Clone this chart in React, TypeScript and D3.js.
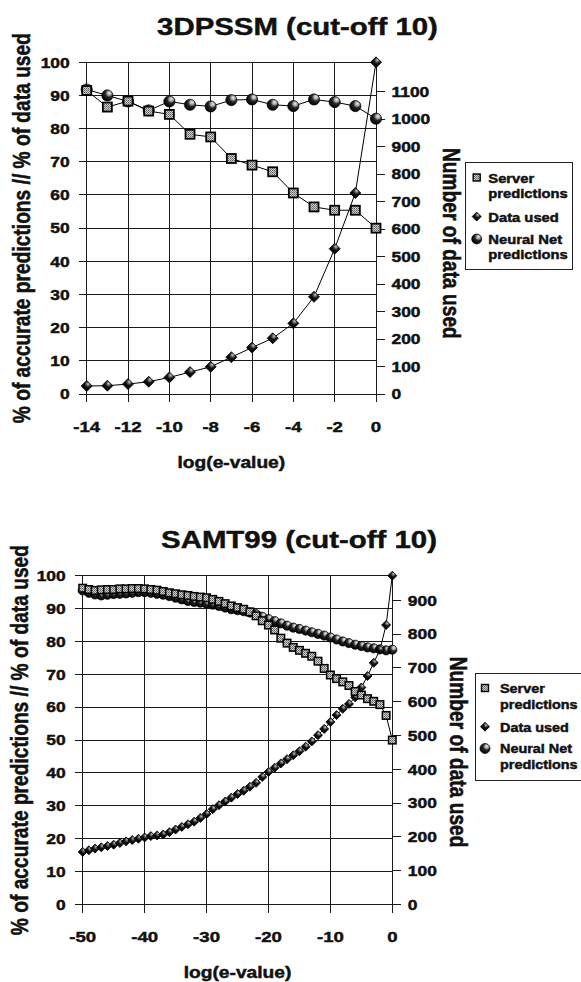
import React from 'react';
import * as d3 from 'd3';

// ---------- 3DPSSM panel data ----------
const xTop = [-14, -13, -12, -11, -10, -9, -8, -7, -6, -5, -4, -3, -2, -1, 0];
const serverTop = [91.5, 86.5, 88.3, 85.3, 84.3, 78.3, 77.5, 71, 69, 67, 60.6, 56.4, 55.4, 55.4, 50];
const dataUsedTop = [2.4, 2.5, 3, 3.7, 5, 6.6, 8.2, 11.1, 14, 16.8, 21.3, 29.3, 43.8, 60.6, 100];
const neuralTop = [91.8, 90, 88.2, 85.5, 88.2, 87.2, 86.7, 88.6, 88.8, 87.2, 86.8, 88.8, 88, 86.8, 83];
const xTicksTop = [-14, -12, -10, -8, -6, -4, -2, 0];
const rightTicksTop = [0, 100, 200, 300, 400, 500, 600, 700, 800, 900, 1000, 1100];
const totalTop = 1207;

// ---------- SAMT99 panel data ----------
const xBottom = [
  -50, -49, -48, -47, -46, -45, -44, -43, -42, -41, -40, -39, -38, -37, -36, -35, -34,
  -33, -32, -31, -30, -29, -28, -27, -26, -25, -24, -23, -22, -21, -20, -19, -18, -17,
  -16, -15, -14, -13, -12, -11, -10, -9, -8, -7, -6, -5, -4, -3, -2, -1, 0,
];
const serverBottom = [
  96.2, 95.8, 95.5, 95.7, 95.8, 95.8, 96, 96, 96.1, 96.1, 96, 95.8, 95.6, 95.2, 94.8, 94.5, 94.2,
  94, 93.7, 93.5, 93.3, 92.8, 92.2, 91.5, 90.8, 90.3, 89.8, 89, 87.8, 86.3, 85, 83.5, 81, 79.5,
  78.2, 77.3, 76.4, 75.5, 74, 71.8, 69.8, 68.7, 67.7, 66.6, 64.8, 63.7, 62.6, 61.8, 60.8, 57.5, 50,
];
const dataUsedBottom = [
  16, 16.5, 17, 17.4, 17.8, 18.2, 18.7, 19.2, 19.6, 20, 20.4, 20.8, 21, 21.3, 22, 22.8, 23.6,
  24.4, 25.2, 26.3, 27.5, 29, 30.2, 31.3, 32.5, 33.6, 34.6, 35.8, 37, 38.8, 40.3, 41.6, 42.9, 44.2,
  45.4, 46.6, 48, 49.6, 51.5, 53.4, 55.5, 57.6, 59.5, 61, 63, 66, 69.5, 73.5, 77.5, 85, 100,
];
const neuralBottom = [
  95.5, 94.8, 94.3, 94, 94.2, 94.4, 94.5, 94.6, 94.8, 95, 95, 94.8, 94.5, 94.2, 93.8, 93.3, 92.8,
  92.3, 92, 91.8, 91.5, 91.2, 90.8, 90.3, 89.8, 89.5, 89.2, 88.8, 88.3, 87.5, 86.8, 86.2, 85.5, 84.8,
  84.2, 83.8, 83.3, 82.8, 82.3, 81.8, 81.2, 80.6, 80, 79.5, 79, 78.6, 78.2, 77.9, 77.6, 77.3, 77.5,
];
const xTicksBottom = [-50, -40, -30, -20, -10, 0];
const rightTicksBottom = [0, 100, 200, 300, 400, 500, 600, 700, 800, 900];
const totalBottom = 973;

const leftTicks = [0, 10, 20, 30, 40, 50, 60, 70, 80, 90, 100];
const legendLabels = [['Server', 'predictions'], ['Data used'], ['Neural Net', 'predictions']];

const FONT = "'Liberation Sans', Arial, Helvetica, sans-serif";
const SX = 1.2; // horizontal stretch of the lettering
const INK = '#111';

type Panel = {
  title: string;
  titleX: number;
  titleY: number;
  x: number[];
  server: number[];
  dataUsed: number[];
  neural: number[];
  xTicks: number[];
  rightTicks: number[];
  total: number;
  plot: { l: number; r: number; t: number; b: number };
  leftLabelX: number;
  rightLabelX: number;
  rightLabelY: number;
  xTickY: number;
  xTitleY: number;
  legend: { x: number; y: number; w: number; h: number; mx: number; tx: number; rows: number[]; size: number };
  sq: number;
  sqStroke: number;
  cr: number;
  dm: number;
};

const panels: Panel[] = [
  {
    title: '3DPSSM (cut-off 10)',
    titleX: 297.5,
    titleY: 35,
    x: xTop,
    server: serverTop,
    dataUsed: dataUsedTop,
    neural: neuralTop,
    xTicks: xTicksTop,
    rightTicks: rightTicksTop,
    total: totalTop,
    plot: { l: 86.7, r: 376, t: 62.3, b: 394 },
    leftLabelX: 29.5,
    rightLabelX: 443,
    rightLabelY: 148,
    xTickY: 431.7,
    xTitleY: 468,
    legend: { x: 465, y: 162, w: 107, h: 107, mx: 476.7, tx: 488.3, rows: [182.5, 198, 221.6, 243.5, 258.5], size: 12.3 },
    sq: 9,
    sqStroke: 1.8,
    cr: 5.6,
    dm: 11,
  },
  {
    title: 'SAMT99 (cut-off 10)',
    titleX: 299,
    titleY: 548,
    x: xBottom,
    server: serverBottom,
    dataUsed: dataUsedBottom,
    neural: neuralBottom,
    xTicks: xTicksBottom,
    rightTicks: rightTicksBottom,
    total: totalBottom,
    plot: { l: 82.7, r: 392.3, t: 575.7, b: 904.5 },
    leftLabelX: 27.5,
    rightLabelX: 450,
    rightLabelY: 656.7,
    xTickY: 942,
    xTitleY: 978,
    legend: { x: 475.5, y: 673, w: 120, h: 107, mx: 485, tx: 500, rows: [693, 708.5, 731.7, 753, 768.5], size: 12 },
    sq: 7.5,
    sqStroke: 1.5,
    cr: 4.6,
    dm: 9,
  },
];

const HText = ({ x, y, size, anchor = 'start', children }: any) => (
  <text
    transform={`translate(${x},${y}) scale(${SX},1)`}
    textAnchor={anchor}
    fontSize={size}
    fontWeight="bold"
    fontFamily={FONT}
    fill={INK}
    stroke={INK}
    strokeWidth={0.45}
  >
    {children}
  </text>
);

const Square = ({ x, y, s, w = 1.6 }: any) => (
  <rect x={x - s / 2} y={y - s / 2} width={s} height={s} fill="url(#hatch)" stroke="#000" strokeWidth={w} />
);
const Diamond = ({ x, y, s }: any) => (
  <path
    d={`M${x},${y - s / 2}L${x + s / 2},${y}L${x},${y + s / 2}L${x - s / 2},${y}Z`}
    fill="url(#dia)"
    stroke="#000"
    strokeWidth={0.8}
  />
);
const Ball = ({ x, y, r }: any) => <circle cx={x} cy={y} r={r} fill="url(#sphere)" stroke="#000" strokeWidth={0.7} />;

function ChartPanel({ p }: { p: Panel }) {
  const { l, r, t, b } = p.plot;
  const xs = d3.scaleLinear().domain([p.x[0], p.x[p.x.length - 1]]).range([l, r]);
  const ys = d3.scaleLinear().domain([0, 100]).range([b, t]);
  const yr = d3.scaleLinear().domain([0, p.total]).range([b, t]);
  const line = d3
    .line<[number, number]>()
    .x((d) => xs(d[0]))
    .y((d) => ys(d[1]));
  const pts = (vals: number[]) => p.x.map((xv, i) => [xv, vals[i]] as [number, number]);
  const cy = (t + b) / 2;
  const lg = p.legend;

  return (
    <g>
      <HText x={p.titleX} y={p.titleY} size={24.5} anchor="middle">
        {p.title}
      </HText>

      {/* grid */}
      <g stroke="#1a1a1a" strokeWidth={1} shapeRendering="crispEdges">
        {leftTicks.map((v) => (
          <line key={'h' + v} x1={l - 8} x2={r} y1={ys(v)} y2={ys(v)} />
        ))}
        {p.xTicks.map((v) => (
          <line key={'v' + v} x1={xs(v)} x2={xs(v)} y1={t} y2={b + 8} />
        ))}
        {p.rightTicks.map((v) => (
          <line key={'r' + v} x1={r} x2={r + 9} y1={yr(v)} y2={yr(v)} />
        ))}
      </g>

      {/* left tick labels */}
      {leftTicks.map((v) => (
        <HText key={'lt' + v} x={l - 17} y={ys(v) + 5.2} size={14.5} anchor="end">
          {v}
        </HText>
      ))}
      {/* right tick labels */}
      {p.rightTicks.map((v) => (
        <HText key={'rt' + v} x={r + 15.5} y={yr(v) + 5.2} size={14.5}>
          {v}
        </HText>
      ))}
      {/* bottom tick labels */}
      {p.xTicks.map((v) => (
        <HText key={'xt' + v} x={xs(v)} y={p.xTickY} size={15.5} anchor="middle">
          {v}
        </HText>
      ))}

      <HText x={(l + r) / 2} y={p.xTitleY} size={16} anchor="middle">
        log(e-value)
      </HText>

      <text
        transform={`translate(${p.leftLabelX},${cy}) scale(${SX},1) rotate(-90)`}
        textAnchor="middle"
        fontSize={19.2}
        fontWeight="bold"
        fontFamily={FONT}
        fill={INK}
        stroke={INK}
        strokeWidth={0.45}
      >
        % of accurate predictions // % of data used
      </text>
      <text
        transform={`translate(${p.rightLabelX},${p.rightLabelY}) scale(${SX},1) rotate(90)`}
        textAnchor="start"
        fontSize={19.2}
        fontWeight="bold"
        fontFamily={FONT}
        fill={INK}
        stroke={INK}
        strokeWidth={0.45}
      >
        Number of data used
      </text>

      {/* series lines */}
      <g fill="none" stroke="#000" strokeWidth={1}>
        <path d={line(pts(p.neural)) || ''} />
        <path d={line(pts(p.dataUsed)) || ''} />
        <path d={line(pts(p.server)) || ''} />
      </g>
      {/* series markers */}
      <g>
        {p.neural.map((v, i) => (
          <Ball key={'n' + i} x={xs(p.x[i])} y={ys(v)} r={p.cr} />
        ))}
        {p.dataUsed.map((v, i) => (
          <Diamond key={'d' + i} x={xs(p.x[i])} y={ys(v)} s={p.dm} />
        ))}
        {p.server.map((v, i) => (
          <Square key={'s' + i} x={xs(p.x[i])} y={ys(v)} s={p.sq} w={p.sqStroke} />
        ))}
      </g>

      {/* legend */}
      <rect x={lg.x} y={lg.y} width={lg.w} height={lg.h} fill="#fff" stroke="#222" strokeWidth={1} shapeRendering="crispEdges" />
      <Square x={lg.mx} y={lg.rows[0] - 5} s={7} w={1.4} />
      <Diamond x={lg.mx} y={lg.rows[2] - 5} s={9} />
      <Ball x={lg.mx} y={lg.rows[3] - 4.5} r={5} />
      {[legendLabels[0][0], legendLabels[0][1], legendLabels[1][0], legendLabels[2][0], legendLabels[2][1]].map(
        (s, i) => (
          <HText key={'lg' + i} x={lg.tx} y={lg.rows[i]} size={lg.size}>
            {s}
          </HText>
        )
      )}
    </g>
  );
}

export default function App() {
  return (
    <svg
      width={581}
      height={982}
      viewBox="0 0 581 982"
      style={{ position: 'absolute', left: 0, top: 0, background: '#fff' }}
    >
      <defs>
        <pattern id="hatch" width={2} height={2} patternUnits="userSpaceOnUse">
          <rect width={2} height={2} fill="#d0d0d0" />
          <rect width={1} height={1} fill="#5a5a5a" />
          <rect x={1} y={1} width={1} height={1} fill="#808080" />
        </pattern>
        <radialGradient id="sphere" cx="0.64" cy="0.33" r="0.7" fx="0.68" fy="0.28">
          <stop offset="0" stopColor="#f0f0f0" />
          <stop offset="0.25" stopColor="#a8a8a8" />
          <stop offset="0.5" stopColor="#262626" />
          <stop offset="1" stopColor="#000" />
        </radialGradient>
        <radialGradient id="dia" cx="0.6" cy="0.35" r="0.6" fx="0.62" fy="0.3">
          <stop offset="0" stopColor="#d0d0d0" />
          <stop offset="0.25" stopColor="#666" />
          <stop offset="0.5" stopColor="#111" />
          <stop offset="1" stopColor="#000" />
        </radialGradient>
      </defs>
      <rect width={581} height={982} fill="#fff" />
      {panels.map((p, i) => (
        <ChartPanel key={i} p={p} />
      ))}
    </svg>
  );
}
